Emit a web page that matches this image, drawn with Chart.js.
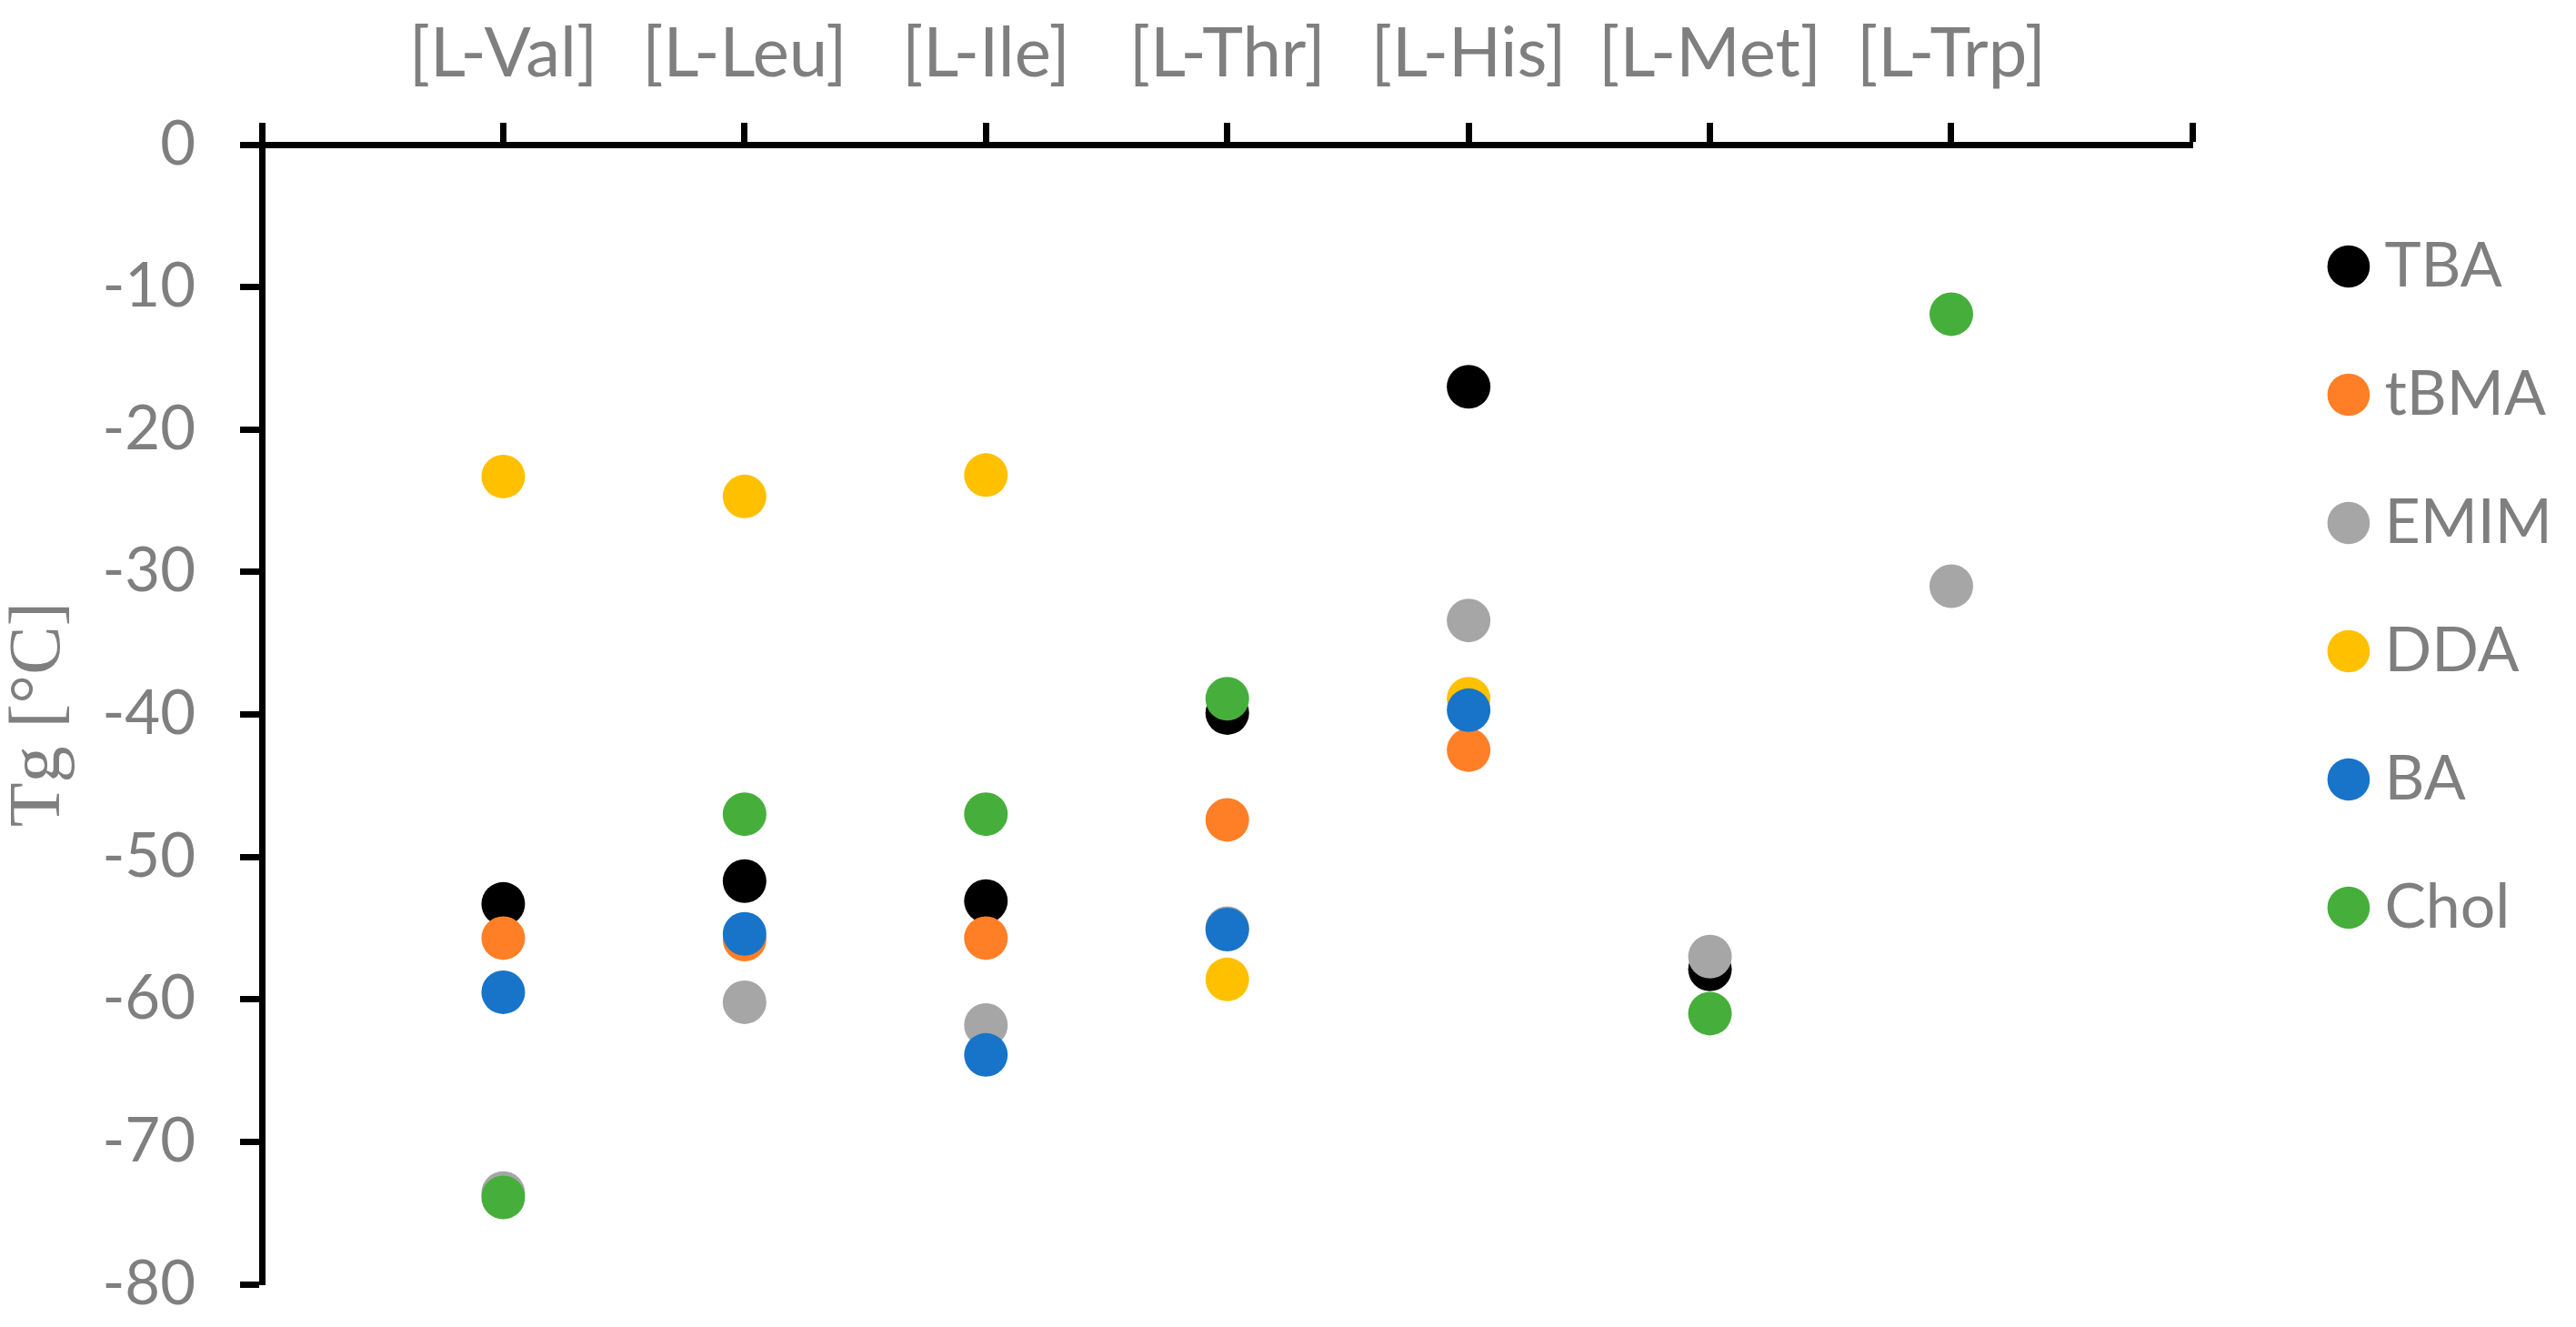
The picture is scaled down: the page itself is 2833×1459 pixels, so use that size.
<!DOCTYPE html>
<html>
<head>
<meta charset="utf-8">
<title>Tg by amino acid ionic liquid</title>
<script src="https://cdn.jsdelivr.net/npm/chart.js@4.4.1/dist/chart.umd.min.js"></script>
<style>
  html, body { margin: 0; padding: 0; background: #fff; overflow: hidden; }
  #wrap { width: 2833px; height: 1459px; }
</style>
</head>
<body>
<div id="wrap"><canvas id="tgChart" width="2833" height="1459"></canvas></div>
<script>
const categories = ['[L-Val]', '[L-Leu]', '[L-Ile]', '[L-Thr]', '[L-His]', '[L-Met]', '[L-Trp]'];
const seriesNames = ['TBA', 'tBMA', 'EMIM', 'DDA', 'BA', 'Chol'];
const tba  = [-53.3, -51.7, -53.1, -39.9, -17.0, -57.9, null];
const tbma = [-55.7, -55.8, -55.7, -47.4, -42.5, null, null];
const emim = [-73.6, -60.2, -61.8, -55.0, -33.4, -57.0, -31.0];
const dda  = [-23.3, -24.7, -23.2, -58.6, -38.9, null, null];
const ba   = [-59.5, -55.4, -63.9, -55.1, -39.7, null, null];
const chol = [-73.9, -47.0, -47.0, -38.9, null, -61.0, -11.9];
const yTicks = [0, -10, -20, -30, -40, -50, -60, -70, -80];

const seriesValues = [tba, tbma, emim, dda, ba, chol];
const seriesColors = ['#000000', '#ff7f27', '#a6a6a6', '#ffc000', '#1874c9', '#46af3b'];

const textGray = '#7f7f7f';
const font = 'Lato';

// one point per category, category i sits at x = i + 1
function toPoints(values) {
    const pts = [];
    values.forEach((v, i) => {
        if (v !== null) pts.push({ x: i + 1, y: v });
    });
    return pts;
}

const datasets = seriesNames.map((name, i) => ({
    label: name,
    data: toPoints(seriesValues[i]),
    backgroundColor: seriesColors[i],
    borderColor: seriesColors[i],
    borderWidth: 0,
    pointRadius: 24,
    pointHoverRadius: 24,
    pointStyle: 'circle',
    showLine: false,
    // later series are painted on top, like the original
    order: seriesNames.length - 1 - i
}));

new Chart(document.getElementById('tgChart'), {
    type: 'scatter',
    data: { datasets: datasets },
    options: {
        responsive: false,
        devicePixelRatio: 1,
        animation: false,
        events: [],
        layout: {
            padding: { top: 0, left: 0, bottom: 47, right: 16 }
        },
        plugins: {
            tooltip: { enabled: false },
            legend: {
                position: 'right',
                align: 'start',
                fullSize: false,
                title: {
                    display: true,
                    text: '',
                    font: { size: 10 },
                    padding: { top: 7, bottom: 8 }
                },
                labels: {
                    usePointStyle: true,
                    pointStyle: 'circle',
                    boxWidth: 11,
                    boxHeight: 33,
                    padding: 73,
                    color: textGray,
                    font: { family: font, size: 68 },
                    sort: (a, b) => a.datasetIndex - b.datasetIndex
                }
            }
        },
        scales: {
            x: {
                type: 'linear',
                position: 'top',
                min: 0,
                max: 8,
                afterFit: (s) => { s.height = 159; },
                afterBuildTicks: (s) => {
                    s.ticks = [0, 1, 2, 3, 4, 5, 6, 7, 8].map(v => ({ value: v }));
                },
                ticks: {
                    autoSkip: false,
                    maxRotation: 0,
                    padding: 30,
                    color: textGray,
                    font: { family: font, size: 76 },
                    callback: (v) => (v >= 1 && v <= categories.length) ? categories[Math.round(v) - 1] : ''
                },
                grid: {
                    display: true,
                    drawOnChartArea: false,
                    drawTicks: true,
                    tickLength: 24,
                    tickWidth: 7,
                    tickColor: '#000'
                },
                border: { display: true, color: '#000', width: 7 }
            },
            y: {
                type: 'linear',
                position: 'left',
                min: -80,
                max: 0,
                afterFit: (s) => {
                    s.width = 288;
                    s.paddingTop = 0;
                    s.paddingBottom = 0;
                },
                afterBuildTicks: (s) => {
                    s.ticks = yTicks.map(v => ({ value: v }));
                },
                ticks: {
                    padding: 49,
                    color: textGray,
                    font: { family: font, size: 67 }
                },
                grid: {
                    display: true,
                    drawOnChartArea: false,
                    drawTicks: true,
                    tickLength: 24,
                    tickWidth: 7,
                    tickColor: '#000'
                },
                border: { display: true, color: '#000', width: 7 },
                title: {
                    display: true,
                    text: 'Tg [°C]',
                    color: textGray,
                    font: { family: 'Liberation Serif', size: 80, lineHeight: 1.1 },
                    padding: 0
                }
            },
            // empty spacer between plot and legend
            gap: {
                type: 'linear',
                position: 'right',
                display: true,
                afterFit: (s) => { s.width = 93; },
                ticks: { display: false },
                grid: { display: false },
                border: { display: false }
            }
        }
    }
});
</script>
</body>
</html>
